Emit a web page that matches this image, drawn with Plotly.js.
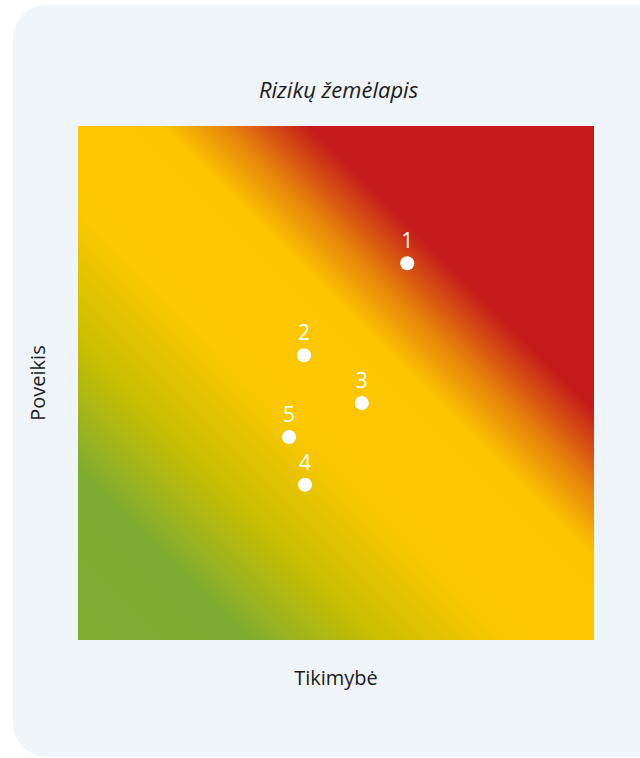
<!DOCTYPE html>
<html>
<head>
<meta charset="utf-8">
<script src="https://cdn.plot.ly/plotly-3.0.1.min.js"></script>
<style>
  html, body { margin: 0; padding: 0; background: #ffffff; }
  #wrap { position: relative; width: 640px; height: 758px; overflow: hidden; }
  #card { position: absolute; left: 13px; top: 5px; width: 660px; height: 752px;
          background: #f0f5fa; border-radius: 34px; }
  #chart { position: absolute; left: 0; top: 0; width: 640px; height: 758px; }
</style>
</head>
<body>
<div id="wrap">
  <div id="card"></div>
  <div id="chart"></div>
</div>
<script>
// Background risk gradient: corner values of the field (interpolated by the heatmap)
const gridX = [0, 10];
const gridY = [0, 10];
const gridZ = [[0, 10], [10, 20]];

// Risks
const riskLabels = ['1', '2', '3', '4', '5'];
const likelihood = [6.38, 4.38, 5.50, 4.40, 4.09];
const impact     = [7.33, 5.54, 4.61, 3.02, 3.95];

const fontFamily = '"Open Sans", "Noto Sans", sans-serif';
const textColor = '#1a1a1a';

const traces = [
  {
    type: 'heatmap',
    x: gridX, y: gridY, z: gridZ,
    zsmooth: 'best',
    zmin: 0, zmax: 20,
    showscale: false,
    hoverinfo: 'skip',
    colorscale: [
      [0.000, '#80ae33'],
      [0.165, '#7fac32'],
      [0.290, '#c9be00'],
      [0.420, '#fcc800'],
      [0.580, '#fcc500'],
      [0.640, '#e8870a'],
      [0.725, '#c41a1a'],
      [1.000, '#c41a1a']
    ]
  },
  {
    type: 'scatter',
    mode: 'markers+text',
    x: likelihood, y: impact,
    text: riskLabels,
    textposition: 'top center',
    textfont: { color: '#ffffff', size: 21, family: fontFamily },
    marker: { color: '#ffffff', size: 14 },
    hoverinfo: 'skip',
    showlegend: false
  }
];

const layout = {
  width: 640, height: 758,
  margin: { l: 78, r: 46, t: 126, b: 118 },
  paper_bgcolor: 'rgba(0,0,0,0)',
  plot_bgcolor: 'rgba(0,0,0,0)',
  showlegend: false,
  font: { family: fontFamily, color: textColor },
  title: {
    text: '<i>Rizikų žemėlapis</i>',
    font: { size: 22, family: fontFamily, color: textColor },
    x: 0.529, xanchor: 'center',
    y: 1 - 90 / 758, yref: 'container', yanchor: 'middle'
  },
  xaxis: {
    range: [0, 10], showgrid: false, zeroline: false, showticklabels: false,
    ticks: '', showline: false, fixedrange: true,
    title: { text: 'Tikimybė', font: { size: 20, family: fontFamily, color: textColor }, standoff: 30 }
  },
  yaxis: {
    range: [0, 10], showgrid: false, zeroline: false, showticklabels: false,
    ticks: '', showline: false, fixedrange: true,
    title: { text: 'Poveikis', font: { size: 20, family: fontFamily, color: textColor }, standoff: 26 }
  }
};

Plotly.newPlot('chart', traces, layout, { displayModeBar: false, staticPlot: true });
</script>
</body>
</html>
